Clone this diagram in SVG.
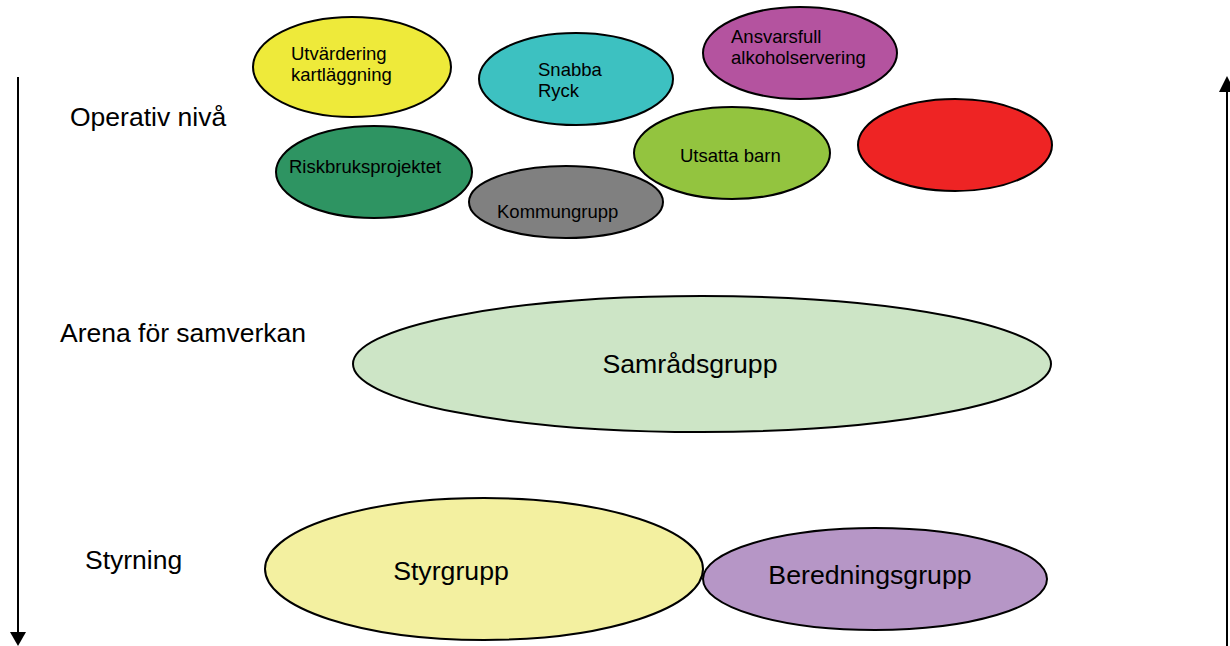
<svg xmlns="http://www.w3.org/2000/svg" width="1230" height="646" viewBox="0 0 1230 646">
<style>
.n{stroke:#000;stroke-width:2}
.s{font-family:"Liberation Sans",Arial,sans-serif;font-size:18.5px;fill:#000}
.l{font-family:"Liberation Sans",Arial,sans-serif;font-size:26.5px;fill:#000}
.b{font-family:"Liberation Sans",Arial,sans-serif;font-size:26.7px;fill:#000}
.ax{stroke:#000;stroke-width:2;fill:none}
</style>
<rect width="1230" height="646" fill="#fff"/>
<g id="connectors">
<path class="ax" d="M18,77 L18,632"/>
<path d="M10,632 L26,632 L18,646 Z" fill="#000"/>
<path class="ax" d="M1227,646 L1227,91"/>
<path d="M1219,92 L1235,92 L1227,76 Z" fill="#000"/>
</g>
<g id="labels">
<text class="l" x="70" y="126">Operativ nivå</text>
<text class="l" x="60" y="342">Arena för samverkan</text>
<text class="l" x="85" y="569">Styrning</text>
</g>
<g id="utvardering">
<ellipse class="n" cx="352" cy="67" rx="99" ry="50" fill="#eeea3a"/>
<text class="s" x="291" y="60">Utvärdering</text>
<text class="s" x="291" y="81">kartläggning</text>
</g>
<g id="snabba">
<ellipse class="n" cx="576" cy="79" rx="97" ry="46" fill="#3dc1c1"/>
<text class="s" x="538" y="76">Snabba</text>
<text class="s" x="538" y="97">Ryck</text>
</g>
<g id="ansvarsfull">
<ellipse class="n" cx="800" cy="53" rx="97" ry="46" fill="#b4539f"/>
<text class="s" x="731" y="43">Ansvarsfull</text>
<text class="s" x="731" y="64">alkoholservering</text>
</g>
<g id="riskbruk">
<ellipse class="n" cx="374" cy="172" rx="98" ry="46" fill="#2e9462"/>
<text class="s" x="289" y="173">Riskbruksprojektet</text>
</g>
<g id="kommungrupp">
<ellipse class="n" cx="566" cy="202" rx="97" ry="36" fill="#808080"/>
<text class="s" x="497" y="218">Kommungrupp</text>
</g>
<g id="utsatta">
<ellipse class="n" cx="732" cy="153" rx="98" ry="46" fill="#93c43f"/>
<text class="s" x="680" y="162">Utsatta barn</text>
</g>
<g id="red">
<ellipse class="n" cx="955" cy="145" rx="97" ry="46" fill="#ee2424"/>
</g>
<g id="samrad">
<ellipse class="n" cx="702" cy="364" rx="349" ry="68" fill="#cde5c6"/>
<text class="b" x="690" y="373" text-anchor="middle">Samrådsgrupp</text>
</g>
<g id="styrgrupp">
<ellipse class="n" cx="484" cy="569" rx="219" ry="71" fill="#f3f0a0"/>
<text class="b" x="451" y="580" text-anchor="middle">Styrgrupp</text>
</g>
<g id="beredning">
<ellipse class="n" cx="875" cy="579" rx="172" ry="51" fill="#b696c6"/>
<text class="b" x="870" y="584" text-anchor="middle">Beredningsgrupp</text>
</g>
</svg>
